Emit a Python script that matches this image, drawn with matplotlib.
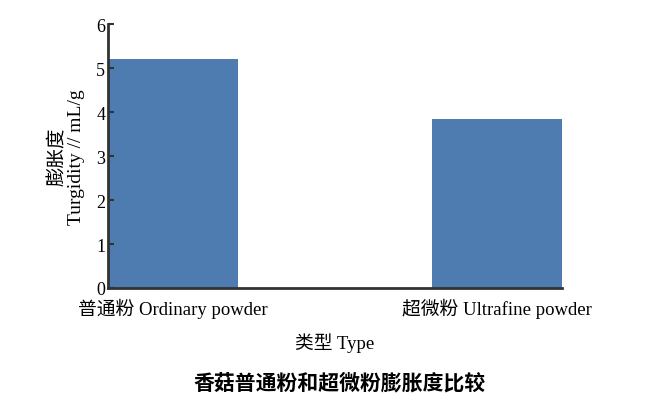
import matplotlib
matplotlib.use('Agg')
import matplotlib.pyplot as plt

plt.rcParams['font.family'] = ['Liberation Serif', 'Noto Sans CJK SC']

# data
categories = ['普通粉 Ordinary powder', '超微粉 Ultrafine powder']
turgidity = [5.21, 3.85]
yticks = [0, 1, 2, 3, 4, 5, 6]

fig = plt.figure(figsize=(6.59, 4.06), dpi=100)
ax = fig.add_axes([0.1639, 0.2882, 0.689, 0.650])

x = range(len(categories))
ax.bar(x, turgidity, width=0.4, color='#4e7bb0')

ax.set_xlim(-0.2, 1.2)
ax.set_ylim(0, 6)
ax.set_yticks(yticks)
ax.set_xticks(list(x))
ax.set_xticklabels(categories, fontsize=13.5)
ax.tick_params(axis='x', length=0, pad=7)
ax.tick_params(axis='y', direction='in', length=4, width=1.5, color='#333333',
               labelsize=13, pad=2)

for side in ['top', 'right']:
    ax.spines[side].set_visible(False)
for side in ['left', 'bottom']:
    ax.spines[side].set_linewidth(2)
    ax.spines[side].set_color('#333333')

ax.set_ylabel('膨胀度\nTurgidity // mL/g', fontsize=14, labelpad=8, linespacing=1.05)
ax.set_xlabel('类型 Type', fontsize=13.5, labelpad=10)

fig.text(0.516, 0.057, '香菇普通粉和超微粉膨胀度比较', ha='center', va='center',
         fontsize=15, fontweight='bold', family=['Noto Sans CJK SC'])

fig.savefig('out.png', dpi=100)
